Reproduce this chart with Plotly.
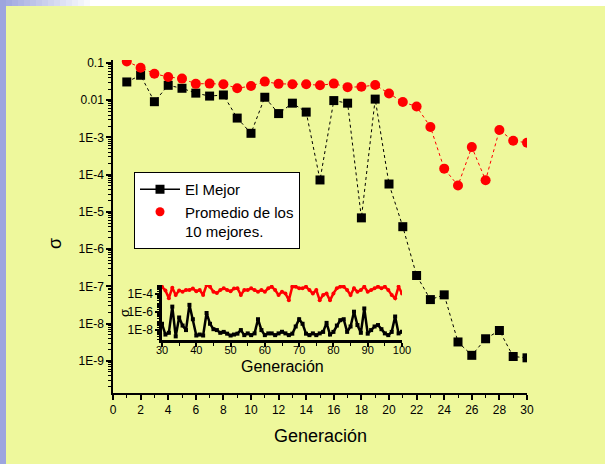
import plotly.graph_objects as go

# ---------------- data ----------------
gen_main = list(range(1, 31))
best_main = [0.0309, 0.0468, 0.00912, 0.0251, 0.0209, 0.0155, 0.0129, 0.0138, 0.00331, 0.00129,
             0.0120, 0.00437, 0.00832, 0.00479, 7.2e-5, 0.00977, 0.00832, 6.9e-6, 0.0107, 5.6e-5,
             4.0e-6, 1.95e-7, 4.4e-8, 5.9e-8, 3.2e-9, 1.4e-9, 3.9e-9, 6.5e-9, 1.3e-9, 1.2e-9]
avg_main = [0.110, 0.0741, 0.0513, 0.0422, 0.0380, 0.0275, 0.0279, 0.0269, 0.0209, 0.0240,
            0.0316, 0.0275, 0.0269, 0.0269, 0.0251, 0.0279, 0.0224, 0.0229, 0.0257, 0.0151,
            0.00891, 0.00676, 0.00191, 1.45e-4, 5.1e-5, 5.5e-4, 7.1e-5, 0.00158, 8.1e-4, 7.2e-4]

gen_inset = list(range(30, 101))
avg_inset = [6.3e-4, 2.5e-4, 3.5e-5, 5.0e-4, 7.9e-5, 2.5e-4, 1.8e-4, 2.8e-4, 2.8e-4, 4.0e-4,
             2.0e-4, 2.75e-4, 7.9e-5, 1.0e-3, 6.5e-4, 1.8e-4, 1.26e-4, 2.75e-4, 4.3e-4, 2.75e-4,
             2.0e-4, 4.0e-4, 4.3e-4, 7.9e-5, 2.75e-4, 2.75e-4, 4.3e-4, 2.75e-4, 1.8e-4, 2.75e-4,
             1.8e-4, 4.3e-4, 6.5e-4, 2.75e-4, 7.8e-5, 1.8e-4, 1.17e-4, 2.1e-5, 6.5e-4, 6.5e-4,
             4.3e-4, 4.3e-4, 6.5e-4, 2.75e-4, 1.17e-4, 2.75e-4, 2.1e-5, 7.8e-5, 1.17e-4, 2.0e-5,
             1.17e-4, 4.3e-4, 6.5e-4, 6.5e-4, 2.75e-4, 7.8e-5, 4.3e-4, 1.8e-4, 2.75e-4, 6.5e-4,
             1.8e-4, 2.75e-4, 4.3e-4, 6.5e-4, 4.3e-4, 6.5e-4, 2.75e-4, 7.8e-5, 3.3e-5, 6.5e-4,
             1.17e-4]
best_inset = [5.0e-8, 3.2e-9, 5.0e-9, 4.0e-6, 2.0e-9, 2.5e-7, 3.2e-8, 1.0e-8, 6.3e-6, 1.6e-7,
              2.5e-9, 3.2e-9, 2.5e-9, 7.9e-7, 5.0e-8, 1.26e-8, 1.0e-8, 5.0e-9, 6.3e-9, 4.0e-9,
              2.5e-9, 3.2e-9, 4.0e-9, 1.0e-8, 2.75e-9, 4.3e-9, 2.75e-9, 4.3e-9, 1.6e-7, 1.0e-8,
              2.75e-9, 4.3e-9, 4.3e-9, 2.75e-9, 4.3e-9, 6.5e-9, 4.3e-9, 2.75e-9, 4.0e-9, 2.5e-8,
              1.6e-7, 5.0e-8, 4.0e-9, 2.75e-9, 4.3e-9, 2.75e-9, 4.3e-9, 6.3e-9, 6.3e-8, 3.2e-9,
              6.3e-9, 3.2e-8, 1.26e-7, 1.6e-7, 6.3e-9, 2.5e-8, 1.1e-6, 3.6e-8, 5.0e-9, 2.5e-6,
              4.0e-9, 1.0e-8, 2.5e-8, 3.6e-8, 1.26e-8, 4.3e-9, 2.75e-9, 6.3e-9, 3.2e-7, 4.3e-9,
              6.5e-9]

main_ytick_vals = [1e-1, 1e-2, 1e-3, 1e-4, 1e-5, 1e-6, 1e-7, 1e-8, 1e-9]
main_ytick_text = ["0.1", "0.01", "1E-3", "1E-4", "1E-5", "1E-6", "1E-7", "1E-8", "1E-9"]
inset_ytick_vals = [1e-4, 1e-6, 1e-8]
inset_ytick_text = ["1E-4", "1E-6", "1E-8"]

W, H = 605, 464
FONT = "Liberation Sans, Arial, sans-serif"
BG = "#EEF89C"

def px(x):
    return x / W

def py(y):
    return 1 - y / H

fig = go.Figure()

# main plot
fig.add_trace(go.Scatter(x=gen_main, y=best_main, mode="lines+markers", showlegend=False,
                         line=dict(color="black", width=1, dash="dot"),
                         marker=dict(symbol="square", size=9, color="black"),
                         xaxis="x", yaxis="y"))
fig.add_trace(go.Scatter(x=gen_main, y=avg_main, mode="lines+markers", showlegend=False,
                         line=dict(color="red", width=1, dash="dot"),
                         marker=dict(symbol="circle", size=10, color="red"),
                         xaxis="x", yaxis="y"))
# inset
fig.add_trace(go.Scatter(x=gen_inset, y=avg_inset, mode="lines+markers", showlegend=False,
                         line=dict(color="red", width=2.5),
                         marker=dict(symbol="circle", size=4, color="red"),
                         xaxis="x2", yaxis="y2"))
fig.add_trace(go.Scatter(x=gen_inset, y=best_inset, mode="lines+markers", showlegend=False,
                         line=dict(color="black", width=2.5),
                         marker=dict(symbol="square", size=4, color="black"),
                         xaxis="x2", yaxis="y2"))
# legend entries
fig.add_trace(go.Scatter(x=[None], y=[None], mode="lines+markers", name="El Mejor",
                         line=dict(color="black", width=1.5),
                         marker=dict(symbol="square", size=9, color="black")))
fig.add_trace(go.Scatter(x=[None], y=[None], mode="markers", name="Promedio de los<br>10 mejores.",
                         marker=dict(symbol="circle", size=9, color="red")))

axis_common = dict(showline=True, linecolor="black", showgrid=False, zeroline=False,
                   ticks="outside", tickcolor="black", mirror=False, automargin=False,
                   tickfont=dict(family=FONT, size=12, color="black"))

# gradient decoration (top strip) + left strip
shapes = []
steps = 16
c0 = (157, 165, 222)
for i in range(steps):
    t = i / (steps - 1)
    col = tuple(int(c0[k] + (255 - c0[k]) * t) for k in range(3))
    shapes.append(dict(type="rect", xref="paper", yref="paper", layer="below",
                       x0=px(i * 6), x1=px((i + 1) * 6 + 1), y0=py(6), y1=1,
                       fillcolor="rgb(%d,%d,%d)" % col, line=dict(width=0)))
shapes.append(dict(type="rect", xref="paper", yref="paper", layer="below",
                   x0=px((steps) * 6), x1=1, y0=py(6), y1=1,
                   fillcolor="white", line=dict(width=0)))
shapes.append(dict(type="rect", xref="paper", yref="paper", layer="below",
                   x0=0, x1=px(6), y0=0, y1=1,
                   fillcolor="rgb(157,165,222)", line=dict(width=0)))

inset_x_axis = dict(axis_common)
inset_x_axis["tickfont"] = dict(family=FONT, size=11, color="black")

fig.update_layout(
    template="none",
    width=W, height=H, autosize=False,
    margin=dict(l=0, r=0, t=0, b=0, pad=0, autoexpand=False),
    paper_bgcolor=BG, plot_bgcolor="rgba(0,0,0,0)",
    font=dict(family=FONT, color="black"),
    shapes=shapes,
    xaxis=dict(**axis_common, domain=[px(113), px(527)], range=[0, 30], dtick=2,
               ticklen=5, tickwidth=1.5, linewidth=1.5, anchor="y",
               minor=dict(ticks="outside", dtick=1, ticklen=3, tickcolor="black", tickwidth=1.2)),
    yaxis=dict(**axis_common, domain=[py(393), py(60)], type="log", range=[-9.866, -0.92],
               tickmode="array", tickvals=main_ytick_vals, ticktext=main_ytick_text,
               ticklen=5, tickwidth=1.5, linewidth=1.5, anchor="x",
               minor=dict(ticks="outside", dtick="D1", ticklen=3, tickcolor="black", tickwidth=1)),
    xaxis2=dict(**inset_x_axis, domain=[px(162), px(402)], range=[30, 100], dtick=10,
                ticklen=4, tickwidth=1.5, linewidth=2.5, anchor="y2", ticklabelstandoff=-6,
                minor=dict(ticks="outside", dtick=5, ticklen=3, tickcolor="black", tickwidth=1.2)),
    yaxis2=dict(**axis_common, domain=[py(340), py(285)], type="log", range=[-9.1, -3],
                tickmode="array", tickvals=inset_ytick_vals, ticktext=inset_ytick_text,
                ticklen=4, tickwidth=1.5, linewidth=2.5, anchor="x2",
                minor=dict(ticks="outside", dtick="D1", ticklen=2, tickcolor="black", tickwidth=1)),
    legend=dict(x=px(134), y=py(172), xanchor="left", yanchor="top",
                bgcolor="white", bordercolor="black", borderwidth=1,
                font=dict(family=FONT, size=15, color="black"),
                valign="top", tracegroupgap=0, itemwidth=40),
    annotations=[
        dict(text="Generación", x=px(320), y=py(436), xref="paper", yref="paper",
             showarrow=False, font=dict(family=FONT, size=18, color="black"),
             xanchor="center", yanchor="middle"),
        dict(text="Generación", x=px(282), y=py(366), xref="paper", yref="paper",
             showarrow=False, font=dict(family=FONT, size=16, color="black"),
             xanchor="center", yanchor="middle"),
        dict(text="σ", x=px(55), y=py(244), xref="paper", yref="paper", textangle=-90,
             showarrow=False, font=dict(family=FONT, size=18, color="black"),
             xanchor="center", yanchor="middle"),
        dict(text="σ", x=px(124), y=py(313), xref="paper", yref="paper", textangle=-90,
             showarrow=False, font=dict(family=FONT, size=13, color="black"),
             xanchor="center", yanchor="middle"),
    ],
)

fig.write_html("out.html", config={"displayModeBar": False},
               post_script="document.body.style.margin='0';")
